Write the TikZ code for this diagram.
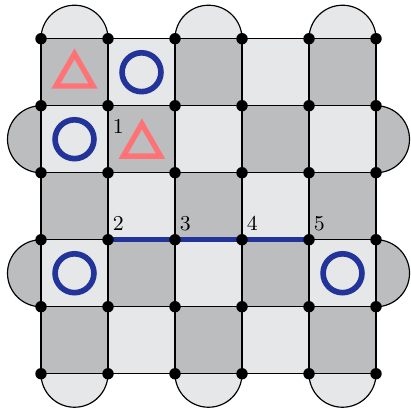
\documentclass[tikz,border=0pt]{standalone}
\usetikzlibrary{calc}
\definecolor{cdark}{HTML}{BCBDBF}
\definecolor{clight}{HTML}{E6E7E8}
\definecolor{cblue}{HTML}{22339A}
\definecolor{ccoral}{HTML}{FF7276}
\begin{document}
\begin{tikzpicture}[
  gline/.style={line width=0.5pt, draw=black},
  vdot/.style={circle, fill=black, inner sep=0pt, minimum size=0.17cm},
  ring/.style={draw=cblue, line width=2.4pt},
  tri/.style={draw=ccoral, line width=2.3pt, line join=miter},
  pathline/.style={draw=cblue, line width=2.1pt},
  lbl/.style={inner sep=0pt, font=\small}
]
\useasboundingbox (-0.612,0.578) rectangle (5.522,-5.512);
% vertices
\foreach \i in {0,...,5}{\foreach \j in {0,...,5}{\coordinate (v\i\j) at (\i,-\j);}}
% cells
\foreach \i in {0,...,4}{\foreach \j in {0,...,4}{
  \pgfmathtruncatemacro{\myparity}{mod(\i+\j,2)}
  \ifnum\myparity=0 \fill[cdark] (\i,-\j) rectangle ++(1,-1);
  \else \fill[clight] (\i,-\j) rectangle ++(1,-1);\fi
}}
% semicircles top / bottom
\foreach \c in {0,2,4}{
  \filldraw[fill=clight, gline] (\c,0) arc (180:0:0.5);
  \filldraw[fill=clight, gline] (\c,-5) arc (180:360:0.5);
}
% semicircles left / right
\foreach \r in {1,3}{
  \filldraw[fill=cdark, gline] (0,-\r) arc (90:270:0.5);
  \filldraw[fill=cdark, gline] (5,-\r) arc (90:-90:0.5);
}
% grid lines
\foreach \k in {0,...,5}{
  \draw[gline] (v0\k) -- (v5\k);
  \draw[gline] (v\k0) -- (v\k5);
}
% blue path
\draw[pathline] (v13) -- (v43);
% rings
\draw[ring] (1.5,-0.5) circle (0.29);
\draw[ring] (0.5,-1.5) circle (0.29);
\draw[ring] (0.5,-3.5) circle (0.29);
\draw[ring] (4.5,-3.5) circle (0.29);
% triangles
\draw[tri] ($(0.5,-0.546)+(90:0.32)$) -- ($(0.5,-0.546)+(210:0.32)$) -- ($(0.5,-0.546)+(330:0.32)$) -- cycle;
\draw[tri] ($(1.506,-1.591)+(90:0.32)$) -- ($(1.506,-1.591)+(210:0.32)$) -- ($(1.506,-1.591)+(330:0.32)$) -- cycle;
% labels
\node[lbl] (l1) at ([shift={(0.154,-0.313)}]v11) {1};
\node[lbl] (l2) at ([shift={(0.154,0.245)}]v13) {2};
\node[lbl] (l3) at ([shift={(0.154,0.245)}]v23) {3};
\node[lbl] (l4) at ([shift={(0.154,0.245)}]v33) {4};
\node[lbl] (l5) at ([shift={(0.154,0.245)}]v43) {5};
% dots
\foreach \i in {0,...,5}{\foreach \j in {0,...,5}{\node[vdot] (d\i\j) at (v\i\j) {};}}
\end{tikzpicture}
\end{document}
